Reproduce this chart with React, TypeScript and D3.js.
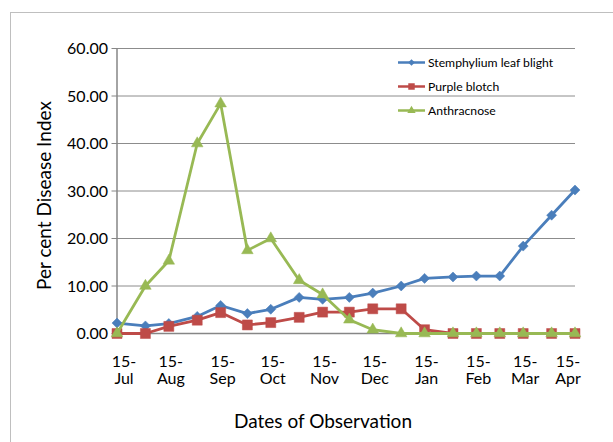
import React from "react";
import * as d3 from "d3";

const dates = [
  "2012-07-15", "2012-08-01", "2012-08-15", "2012-09-01", "2012-09-15",
  "2012-10-01", "2012-10-15", "2012-11-01", "2012-11-15", "2012-12-01",
  "2012-12-15", "2013-01-01", "2013-01-15", "2013-02-01", "2013-02-15",
  "2013-03-01", "2013-03-15", "2013-04-01", "2013-04-15",
];
const stemphylium = [2.2, 1.6, 2.1, 3.6, 5.9, 4.2, 5.1, 7.6, 7.2, 7.6, 8.5, 10.0, 11.6, 11.9, 12.1, 12.1, 18.4, 24.9, 30.2];
const purpleBlotch = [0, 0, 1.5, 2.8, 4.4, 1.8, 2.3, 3.4, 4.5, 4.5, 5.2, 5.2, 0.8, 0, 0, 0, 0, 0, 0];
const anthracnose = [0, 10, 15.3, 40, 48.4, 17.5, 20, 11.2, 8.2, 2.9, 0.8, 0, 0, 0, 0, 0, 0, 0, 0];
const tickDates = [
  "2012-07-15", "2012-08-15", "2012-09-15", "2012-10-15", "2012-11-15",
  "2012-12-15", "2013-01-15", "2013-02-15", "2013-03-15", "2013-04-15",
];
const yTicks = [0, 10, 20, 30, 40, 50, 60];
const seriesNames = ["Stemphylium leaf blight", "Purple blotch", "Anthracnose"];
const seriesColors = ["#4A7EBB", "#BE4B48", "#98B954"];
const seriesShapes = ["diamond", "square", "triangle"];

const FONT = "Lato, 'Open Sans', sans-serif";

export default function App() {
  const parse = d3.timeParse("%Y-%m-%d");
  const fmt = d3.timeFormat("%d-%b");
  const xDates = dates.map((d) => parse(d) as Date);
  const x = d3.scaleTime().domain([xDates[0], xDates[xDates.length - 1]]).range([117, 575]);
  const y = d3.scaleLinear().domain([0, 60]).range([333.5, 48.5]);
  const plotLeft = 117;
  const plotRight = 575;

  const allSeries = [stemphylium, purpleBlotch, anthracnose];
  const line = d3
    .line<number>()
    .x((_, i) => x(xDates[i]))
    .y((v) => y(v));

  const markerPath = (shape: string, big: boolean) => {
    if (shape === "diamond") {
      return d3.symbol().type(d3.symbolSquare).size(big ? 50 : 22)() as string;
    }
    if (shape === "square") {
      return d3.symbol().type(d3.symbolSquare).size(big ? 100 : 42)() as string;
    }
    return d3.symbol().type(d3.symbolTriangle).size(big ? 58 : 30)() as string;
  };
  const markerRot = (shape: string) => (shape === "diamond" ? " rotate(45)" : "");

  return (
    <svg
      width={613}
      height={442}
      style={{ position: "absolute", left: 0, top: 0, background: "#fff" }}
      fontFamily={FONT}
    >
      <rect x={0} y={0} width={613} height={442} fill="#fff" />
      {/* chart area border */}
      <rect x={10.5} y={12.5} width={640} height={460} fill="none" stroke="#BFBFBF" strokeWidth={1} />

      {/* gridlines */}
      {yTicks.map((t) => (
        <line key={"g" + t} x1={plotLeft} x2={plotRight} y1={y(t)} y2={y(t)} stroke="#8C8C8C" strokeWidth={1} />
      ))}
      {/* y axis */}
      <line x1={plotLeft} x2={plotLeft} y1={y(60)} y2={y(0)} stroke="#868686" strokeWidth={1.5} />
      {yTicks.map((t) => (
        <line key={"t" + t} x1={111.5} x2={plotLeft} y1={y(t)} y2={y(t)} stroke="#868686" strokeWidth={1} />
      ))}
      {yTicks.map((t) => (
        <text
          key={"l" + t}
          x={108}
          y={y(t)}
          dy="0.36em"
          textAnchor="end"
          fontSize={16}
          fill="#000"
        >
          {d3.format(".2f")(t)}
        </text>
      ))}
      {/* x axis line */}
      <line x1={plotLeft} x2={plotRight} y1={y(0)} y2={y(0)} stroke="#868686" strokeWidth={1.5} />

      {/* x tick labels (wrapped onto two lines) */}
      {tickDates.map((d) => {
        const dt = parse(d) as Date;
        const label = fmt(dt);
        const parts = [label.slice(0, 3), label.slice(3)];
        const lx = Math.max(plotLeft + 7, Math.min(plotRight - 7, x(dt) + 2));
        return (
          <g key={d}>
            <text x={lx} y={366.5} textAnchor="middle" fontSize={16} fill="#000">
              {parts[0]}
            </text>
            <text x={lx} y={384} textAnchor="middle" fontSize={16} fill="#000">
              {parts[1]}
            </text>
          </g>
        );
      })}

      {/* series */}
      {allSeries.map((vals, si) => (
        <g key={"s" + si}>
          <path d={line(vals) as string} fill="none" stroke={seriesColors[si]} strokeWidth={2.8} strokeLinejoin="round" />
          {vals.map((v, i) => (
            <path
              key={i}
              d={markerPath(seriesShapes[si], true)}
              transform={`translate(${x(xDates[i])},${y(v)})${markerRot(seriesShapes[si])}`}
              fill={seriesColors[si]}
              stroke={seriesColors[si]}
              strokeWidth={0.5}
            />
          ))}
        </g>
      ))}

      {/* legend */}
      {seriesNames.map((name, si) => {
        const ly = 62.5 + si * 24;
        return (
          <g key={name}>
            <line x1={398} x2={425} y1={ly} y2={ly} stroke={seriesColors[si]} strokeWidth={2.5} />
            <path
              d={markerPath(seriesShapes[si], false)}
              transform={`translate(411.5,${ly})${markerRot(seriesShapes[si])}`}
              fill={seriesColors[si]}
            />
            <text x={428} y={ly} dy="0.35em" fontSize={12.2} fill="#000">
              {name}
            </text>
          </g>
        );
      })}

      {/* axis titles */}
      <text x={323} y={428} textAnchor="middle" fontSize={19} fill="#000">
        Dates of Observation
      </text>
      <text
        transform="translate(51,195.5) rotate(-90)"
        textAnchor="middle"
        fontSize={19}
        fill="#000"
      >
        Per cent Disease Index
      </text>
    </svg>
  );
}
